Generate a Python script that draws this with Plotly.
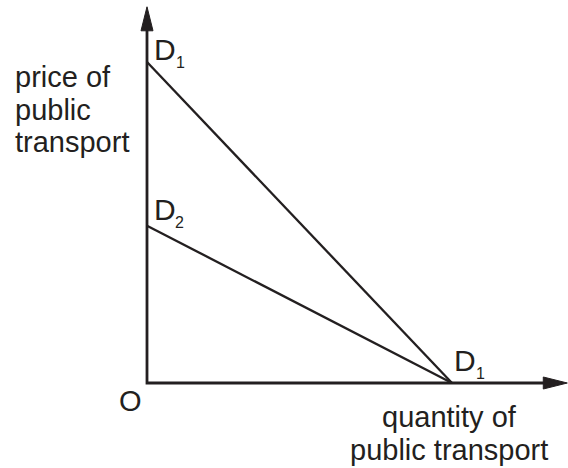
import plotly.graph_objects as go

# ---- data (conceptual demand curves) ----
D1_PRICE_INTERCEPT = 10.0
D2_PRICE_INTERCEPT = 4.9
QTY_INTERCEPT = 10.0
X_AXIS_END = 13.78
Y_AXIS_END = 11.72

curve_names = ["D1", "D2"]
curve_x = [[0, QTY_INTERCEPT], [0, QTY_INTERCEPT]]
curve_y = [[D1_PRICE_INTERCEPT, 0], [D2_PRICE_INTERCEPT, 0]]

# ---- layout geometry ----
W, H = 568, 468
OX, OY = 147, 383          # pixel position of origin
PX_X = 30.5                # pixels per x unit
PX_Y = 32.1                # pixels per y unit
x_range = [-OX / PX_X, (W - OX) / PX_X]
y_range = [-(H - OY) / PX_Y, OY / PX_Y]

INK = "#231f20"
FONT = "Liberation Sans, Arial, sans-serif"

fig = go.Figure()

# axes lines
fig.add_trace(go.Scatter(x=[0, 0, X_AXIS_END - 20 / PX_X], y=[Y_AXIS_END - 20 / PX_Y, 0, 0],
                         mode="lines", line=dict(color=INK, width=2.8), hoverinfo="skip",
                         showlegend=False))
# arrowheads
hl, hw = 24, 6
fig.add_trace(go.Scatter(x=[0, -hw / PX_X, hw / PX_X, 0],
                         y=[Y_AXIS_END, Y_AXIS_END - hl / PX_Y, Y_AXIS_END - hl / PX_Y, Y_AXIS_END],
                         mode="lines", fill="toself", fillcolor=INK, line=dict(color=INK, width=1),
                         hoverinfo="skip", showlegend=False))
fig.add_trace(go.Scatter(x=[X_AXIS_END, X_AXIS_END - hl / PX_X, X_AXIS_END - hl / PX_X, X_AXIS_END],
                         y=[0, hw / PX_Y, -hw / PX_Y, 0],
                         mode="lines", fill="toself", fillcolor=INK, line=dict(color=INK, width=1),
                         hoverinfo="skip", showlegend=False))

# demand curves
for name, xs, ys in zip(curve_names, curve_x, curve_y):
    fig.add_trace(go.Scatter(x=xs, y=ys, mode="lines", name=name,
                             line=dict(color=INK, width=2.3), hoverinfo="skip", showlegend=False))

def px(xp):
    return xp / W

def py(yp):
    return 1 - yp / H

ann = []
def label(text, xp, yp, xanchor="left", yanchor="middle", align="left", size=29):
    ann.append(dict(text=text, x=px(xp), y=py(yp), xref="paper", yref="paper",
                    xanchor=xanchor, yanchor=yanchor, align=align, showarrow=False,
                    font=dict(family=FONT, size=size, color=INK)))

label("price of", 13, 77)
label("public", 13, 110)
label("transport", 13, 142)
label("quantity of", 449, 417, xanchor="center")
label("public transport", 449, 450, xanchor="center")
label("O", 130, 401, xanchor="center")

label("D", 152, 50, size=30)
label("1", 174, 63, size=16)
label("D", 152, 210, size=30)
label("2", 173, 222, size=16)
label("D", 452, 360, size=30)
label("1", 474, 373, size=16)

fig.update_layout(
    width=W, height=H, margin=dict(l=0, r=0, t=0, b=0),
    paper_bgcolor="white", plot_bgcolor="white",
    xaxis=dict(range=x_range, visible=False, fixedrange=True),
    yaxis=dict(range=y_range, visible=False, fixedrange=True),
    annotations=ann, showlegend=False,
)

fig.write_html("out.html", config={"displayModeBar": False},
               post_script="document.body.style.margin='0px';")
